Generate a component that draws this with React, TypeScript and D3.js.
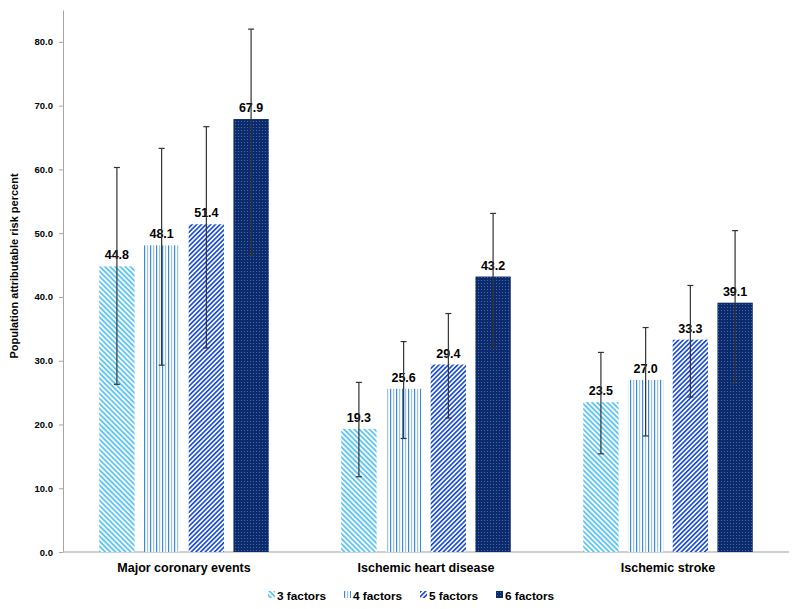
import React, { useEffect, useRef } from "react";
import * as d3 from "d3";

const categories = ["Major coronary events", "Ischemic heart disease", "Ischemic stroke"];
const seriesNames = ["3 factors", "4 factors", "5 factors", "6 factors"];

// point estimates per series (one value per category)
const factors3 = [44.8, 19.3, 23.5];
const factors4 = [48.1, 25.6, 27.0];
const factors5 = [51.4, 29.4, 33.3];
const factors6 = [67.9, 43.2, 39.1];

// confidence limits
const lower3 = [26.3, 11.8, 15.4];
const upper3 = [60.3, 26.6, 31.3];
const lower4 = [29.3, 17.8, 18.2];
const upper4 = [63.3, 33.0, 35.2];
const lower5 = [32.0, 21.0, 24.3];
const upper5 = [66.7, 37.4, 41.8];
const lower6 = [46.5, 32.1, 26.4];
const upper6 = [82.0, 53.1, 50.4];

const yTicks = [0, 10, 20, 30, 40, 50, 60, 70, 80];

const App = () => {
  const svgRef = useRef<SVGSVGElement>(null);

  useEffect(() => {
    const width = 800;
    const height = 609;
    const font = "'Liberation Sans', Arial, sans-serif";

    const svg = d3
      .select(svgRef.current)
      .attr("width", width)
      .attr("height", height)
      .style("font-family", font)
      .style("background", "#fff");

    svg.selectAll("*").remove();

    const series = [
      { name: seriesNames[0], values: factors3, lo: lower3, hi: upper3, fill: "url(#pat3)" },
      { name: seriesNames[1], values: factors4, lo: lower4, hi: upper4, fill: "url(#pat4)" },
      { name: seriesNames[2], values: factors5, lo: lower5, hi: upper5, fill: "url(#pat5)" },
      { name: seriesNames[3], values: factors6, lo: lower6, hi: upper6, fill: "url(#pat6)" },
    ];

    const data = series.flatMap((s) =>
      categories.map((c, i) => ({
        cat: c,
        name: s.name,
        value: s.values[i],
        lo: s.lo[i],
        hi: s.hi[i],
        fill: s.fill,
      }))
    );

    // Patterns
    const defs = svg.append("defs");

    const p3 = defs
      .append("pattern")
      .attr("id", "pat3")
      .attr("patternUnits", "userSpaceOnUse")
      .attr("width", 3.6)
      .attr("height", 3.6)
      .attr("patternTransform", "rotate(-45)");
    p3.append("rect").attr("width", 3.6).attr("height", 3.6).attr("fill", "#fff");
    p3.append("rect").attr("width", 1.8).attr("height", 3.6).attr("fill", "#5cc6f4");

    const p4 = defs
      .append("pattern")
      .attr("id", "pat4")
      .attr("patternUnits", "userSpaceOnUse")
      .attr("width", 6)
      .attr("height", 6);
    p4.append("rect").attr("width", 6).attr("height", 6).attr("fill", "#fff");
    p4.append("rect").attr("x", 0).attr("width", 1.2).attr("height", 6).attr("fill", "#3f8ad6");
    p4.append("rect").attr("x", 3).attr("width", 1.2).attr("height", 6).attr("fill", "#9cc4ea");

    const p5 = defs
      .append("pattern")
      .attr("id", "pat5")
      .attr("patternUnits", "userSpaceOnUse")
      .attr("width", 3.3)
      .attr("height", 3.3)
      .attr("patternTransform", "rotate(45)");
    p5.append("rect").attr("width", 3.3).attr("height", 3.3).attr("fill", "#fff");
    p5.append("rect").attr("width", 1.7).attr("height", 3.3).attr("fill", "#1f4fd3");

    const p6 = defs
      .append("pattern")
      .attr("id", "pat6")
      .attr("patternUnits", "userSpaceOnUse")
      .attr("width", 3)
      .attr("height", 3);
    p6.append("rect").attr("width", 3).attr("height", 3).attr("fill", "#0c2b6c");
    p6.append("rect").attr("x", 1).attr("y", 1).attr("width", 1).attr("height", 1).attr("fill", "#4a68a8");

    // Scales
    const x0 = d3.scaleBand().domain(categories).range([63, 789]).padding(0);
    const x1 = d3
      .scaleBand()
      .domain(seriesNames)
      .range([0, x0.bandwidth()])
      .paddingInner(0.21)
      .paddingOuter(0.81);
    const y = d3.scaleLinear().domain([0, 85]).range([552, 10]);

    // Y axis
    const yAxis = svg
      .append("g")
      .attr("transform", "translate(63,0)")
      .call(
        d3
          .axisLeft(y)
          .tickValues(yTicks)
          .tickSizeInner(4)
          .tickSizeOuter(0)
          .tickPadding(6)
          .tickFormat(d3.format(".1f") as any)
      );
    yAxis.select(".domain").attr("stroke", "#a6a6a6");
    yAxis.selectAll(".tick line").attr("stroke", "#a6a6a6");
    yAxis
      .selectAll(".tick text")
      .attr("fill", "#000")
      .style("font-family", font)
      .style("font-size", "9.5px")
      .style("font-weight", "bold");

    // X axis baseline
    svg
      .append("line")
      .attr("x1", 63)
      .attr("x2", 789)
      .attr("y1", y(0))
      .attr("y2", y(0))
      .attr("stroke", "#bfbfbf")
      .attr("stroke-width", 1.5);

    // Bars
    const bars = svg.append("g");
    bars
      .selectAll("rect")
      .data(data)
      .join("rect")
      .attr("x", (d) => x0(d.cat)! + x1(d.name)!)
      .attr("y", (d) => y(d.value))
      .attr("width", x1.bandwidth())
      .attr("height", (d) => y(0) - y(d.value))
      .attr("fill", (d) => d.fill);

    // Value labels
    svg
      .append("g")
      .selectAll("text")
      .data(data)
      .join("text")
      .attr("x", (d) => x0(d.cat)! + x1(d.name)! + x1.bandwidth() / 2)
      .attr("y", (d) => y(d.value) - 7)
      .attr("text-anchor", "middle")
      .style("font-size", "12.5px")
      .style("font-weight", "bold")
      .attr("fill", "#000")
      .text((d) => d.value.toFixed(1));

    // Error bars
    const err = svg.append("g").attr("stroke", "#333").attr("stroke-width", 1.2);
    data.forEach((d) => {
      const cx = x0(d.cat)! + x1(d.name)! + x1.bandwidth() / 2;
      err.append("line").attr("x1", cx).attr("x2", cx).attr("y1", y(d.lo)).attr("y2", y(d.hi));
      err.append("line").attr("x1", cx - 3).attr("x2", cx + 3).attr("y1", y(d.lo)).attr("y2", y(d.lo));
      err.append("line").attr("x1", cx - 3).attr("x2", cx + 3).attr("y1", y(d.hi)).attr("y2", y(d.hi));
    });

    // Category labels
    svg
      .append("g")
      .selectAll("text")
      .data(categories)
      .join("text")
      .attr("x", (d) => x0(d)! + x0.bandwidth() / 2)
      .attr("y", 572)
      .attr("text-anchor", "middle")
      .style("font-size", "12.5px")
      .style("font-weight", "bold")
      .text((d) => d);

    // Y axis title
    svg
      .append("text")
      .attr("transform", "translate(18,266) rotate(-90)")
      .attr("text-anchor", "middle")
      .style("font-size", "11px")
      .style("font-weight", "bold")
      .text("Population attributable risk percent");

    // Legend
    const legend = svg
      .append("g")
      .selectAll("g")
      .data(series)
      .join("g")
      .attr("transform", (d, i) => `translate(${268 + i * 76}, 591)`);
    legend.append("rect").attr("width", 7).attr("height", 7).attr("fill", (d) => d.fill);
    legend
      .append("text")
      .attr("x", 9)
      .attr("y", 8.5)
      .style("font-size", "11.8px")
      .style("font-weight", "bold")
      .text((d) => d.name);
  }, []);

  return (
    <svg
      ref={svgRef}
      style={{ display: "block", position: "absolute", left: 0, top: 0 }}
    ></svg>
  );
};

export default App;
